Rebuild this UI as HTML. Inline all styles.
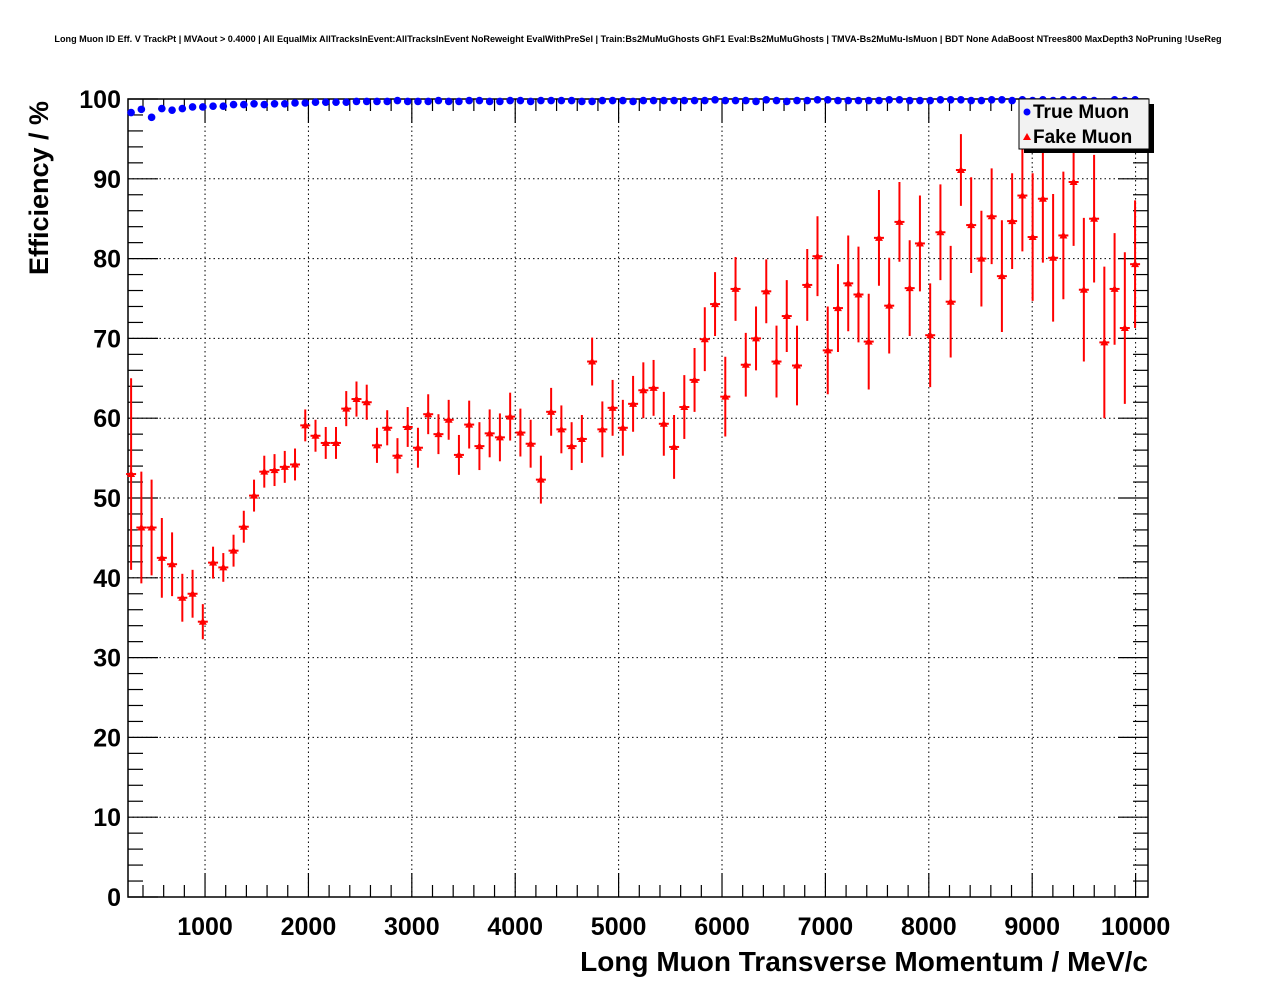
<!DOCTYPE html>
<html><head><meta charset="utf-8"><style>
body{margin:0;background:#fff}
svg{display:block;font-family:"Liberation Sans",Arial,sans-serif}
</style></head><body>
<svg id="chart" width="1276" height="996" viewBox="0 0 1276 996">
<text x="638" y="42" text-anchor="middle" font-size="9.1" font-weight="bold">Long Muon ID Eff. V TrackPt | MVAout &gt; 0.4000 | All EqualMix AllTracksInEvent:AllTracksInEvent NoReweight EvalWithPreSel | Train:Bs2MuMuGhosts GhF1 Eval:Bs2MuMuGhosts | TMVA-Bs2MuMu-IsMuon | BDT None AdaBoost NTrees800 MaxDepth3 NoPruning !UseReg</text>
<g id="grid"></g><g id="axes"></g><g id="marks"></g>
<text transform="translate(48,188) rotate(-90)" text-anchor="middle" font-size="27" font-weight="bold">Efficiency / %</text>
<text x="1148" y="971" text-anchor="end" font-size="28" font-weight="bold">Long Muon Transverse Momentum / MeV/c</text>
<g>
<rect x="1024" y="104" width="130" height="49" fill="#000"/>
<rect x="1019" y="99" width="130" height="50" fill="#f2f2f2" stroke="#000" stroke-width="1"/>
<circle cx="1027" cy="112" r="3.5" fill="#0000ff"/>
<text x="1033" y="118" font-size="19" font-weight="bold">True Muon</text>
<path d="M1023,140 L1031,140 L1027,133 Z" fill="#ff0000"/>
<text x="1033" y="143" font-size="19" font-weight="bold">Fake Muon</text>
</g>
</svg>
<script>
const xTicks=[1000,2000,3000,4000,5000,6000,7000,8000,9000,10000];
const yTicks=[0,10,20,30,40,50,60,70,80,90,100];
const fakeVals=[53,46.3,46.3,42.5,41.7,37.5,38,34.5,41.9,41.3,43.4,46.4,50.3,53.3,53.5,53.9,54.2,59.1,57.8,56.9,56.9,61.2,62.4,62,56.6,58.8,55.3,58.9,56.3,60.5,58,59.8,55.4,59.2,56.5,58.1,57.6,60.2,58.2,56.8,52.3,60.8,58.6,56.5,57.4,67.1,58.6,61.3,58.8,61.8,63.5,63.8,59.3,56.4,61.4,64.8,69.9,74.3,62.7,76.2,66.7,70,75.9,67.1,72.8,66.6,76.7,80.3,68.5,73.8,76.9,75.5,69.6,82.6,74.1,84.6,76.3,81.9,70.4,83.3,74.6,91.1,84.2,80,85.3,77.8,84.7,87.9,82.7,87.5,80.1,82.9,89.6,76.1,85,69.5,76.2,71.3,79.3];
const fakeErrs=[12,7,6,5,4,3,3,2.2,2,1.8,2,2,2,2,2,2,2,2,2,2,2,2.2,2.2,2.2,2.2,2.2,2.2,2.5,2.5,2.5,2.5,2.5,2.5,3,3,3,3,3,3,3,3,3,3,3,3,3,3.5,3.5,3.5,3.5,3.5,3.5,4,4,4,4,4,4,5,4,4,4,4,4.5,4.5,5,4.5,5,5.5,5.5,6,6,6,6,6,5,6,6,6.5,6,7,4.5,6,6,6,7,6,7,8,8,8,8,8,9,8,9.5,7,9.5,8];
const trueVals=[98.3,98.7,97.7,98.8,98.6,98.8,99,99,99.1,99.1,99.3,99.3,99.4,99.3,99.4,99.4,99.5,99.5,99.6,99.6,99.6,99.6,99.7,99.7,99.7,99.7,99.8,99.7,99.7,99.7,99.8,99.7,99.7,99.8,99.8,99.7,99.7,99.8,99.8,99.7,99.8,99.8,99.8,99.8,99.7,99.7,99.8,99.8,99.8,99.7,99.8,99.8,99.8,99.8,99.8,99.8,99.8,99.9,99.8,99.8,99.8,99.7,99.9,99.8,99.7,99.8,99.8,99.9,99.9,99.8,99.8,99.8,99.8,99.8,99.9,99.9,99.8,99.8,99.8,99.9,99.9,99.9,99.8,99.8,99.9,99.9,99.8,99.9,99.8,99.9,99.8,99.9,99.9,99.9,99.8,99.6,99.9,99.8,99.9];
const NS='http://www.w3.org/2000/svg';
const L=128,R=1148,T=99,B=897,XMIN=255,XMAX=10120;
const xs=v=>L+(v-XMIN)/(XMAX-XMIN)*(R-L);
const ys=v=>B-(v/100)*(B-T);
const binW=(9995-285)/98;
const centers=fakeVals.map((_,i)=>285+i*binW);
function mk(tag,attrs,parent){const e=document.createElementNS(NS,tag);for(const k in attrs)e.setAttribute(k,attrs[k]);parent.appendChild(e);return e;}
const grid=document.getElementById('grid'),axes=document.getElementById('axes'),marks=document.getElementById('marks');
xTicks.forEach(t=>{const g=mk('line',{x1:xs(t),x2:xs(t),y1:T,y2:B,stroke:'#000','stroke-dasharray':'1.5,3','stroke-width':1},grid);

});
yTicks.forEach(t=>{if(t===0||t===100)return;const g=mk('line',{x1:L,x2:R,y1:ys(t),y2:ys(t),stroke:'#000','stroke-dasharray':'1.5,3','stroke-width':1},grid);

});
const frame=mk('rect',{x:L,y:T,width:R-L,height:B-T,fill:'none',stroke:'#000','stroke-width':1.5},axes);


for(let v=0;v<=100;v+=2){const big=v%10===0,len=big?30:15;
mk('line',{x1:L,x2:L+len,y1:ys(v),y2:ys(v),stroke:'#000','stroke-width':1.2},axes);
mk('line',{x1:R,x2:R-len,y1:ys(v),y2:ys(v),stroke:'#000','stroke-width':1.2},axes);}
for(let v=400;v<=10100;v+=200){const big=v%1000===0,len=big?24:12;
mk('line',{x1:xs(v),x2:xs(v),y1:B,y2:B-len,stroke:'#000','stroke-width':1.2},axes);
mk('line',{x1:xs(v),x2:xs(v),y1:T,y2:T+len,stroke:'#000','stroke-width':1.2},axes);}
yTicks.forEach(t=>{const e=mk('text',{x:121,y:ys(t)+9,'text-anchor':'end','font-size':25,'font-weight':'bold'},axes);e.textContent=t;

});
xTicks.forEach(t=>{const e=mk('text',{x:xs(t),y:935,'text-anchor':'middle','font-size':25,'font-weight':'bold'},axes);e.textContent=t;

});
fakeVals.forEach((v,i)=>{const cx=xs(centers[i]),cy=ys(v),e=fakeErrs[i];
const g=mk('g',{},marks);


mk('line',{x1:cx,x2:cx,y1:ys(Math.min(100,v+e)),y2:ys(v-e),stroke:'#ff0000','stroke-width':2},g);
mk('line',{x1:cx-5,x2:cx+5,y1:cy,y2:cy,stroke:'#ff0000','stroke-width':2},g);
mk('path',{d:`M${cx-4},${cy+3} L${cx+4},${cy+3} L${cx},${cy-4} Z`,fill:'#ff0000'},g);});
trueVals.forEach((v,i)=>{const c=mk('circle',{cx:xs(centers[i]),cy:ys(v),r:3.8,fill:'#0000ff'},marks);

});
</script>
</body></html>
